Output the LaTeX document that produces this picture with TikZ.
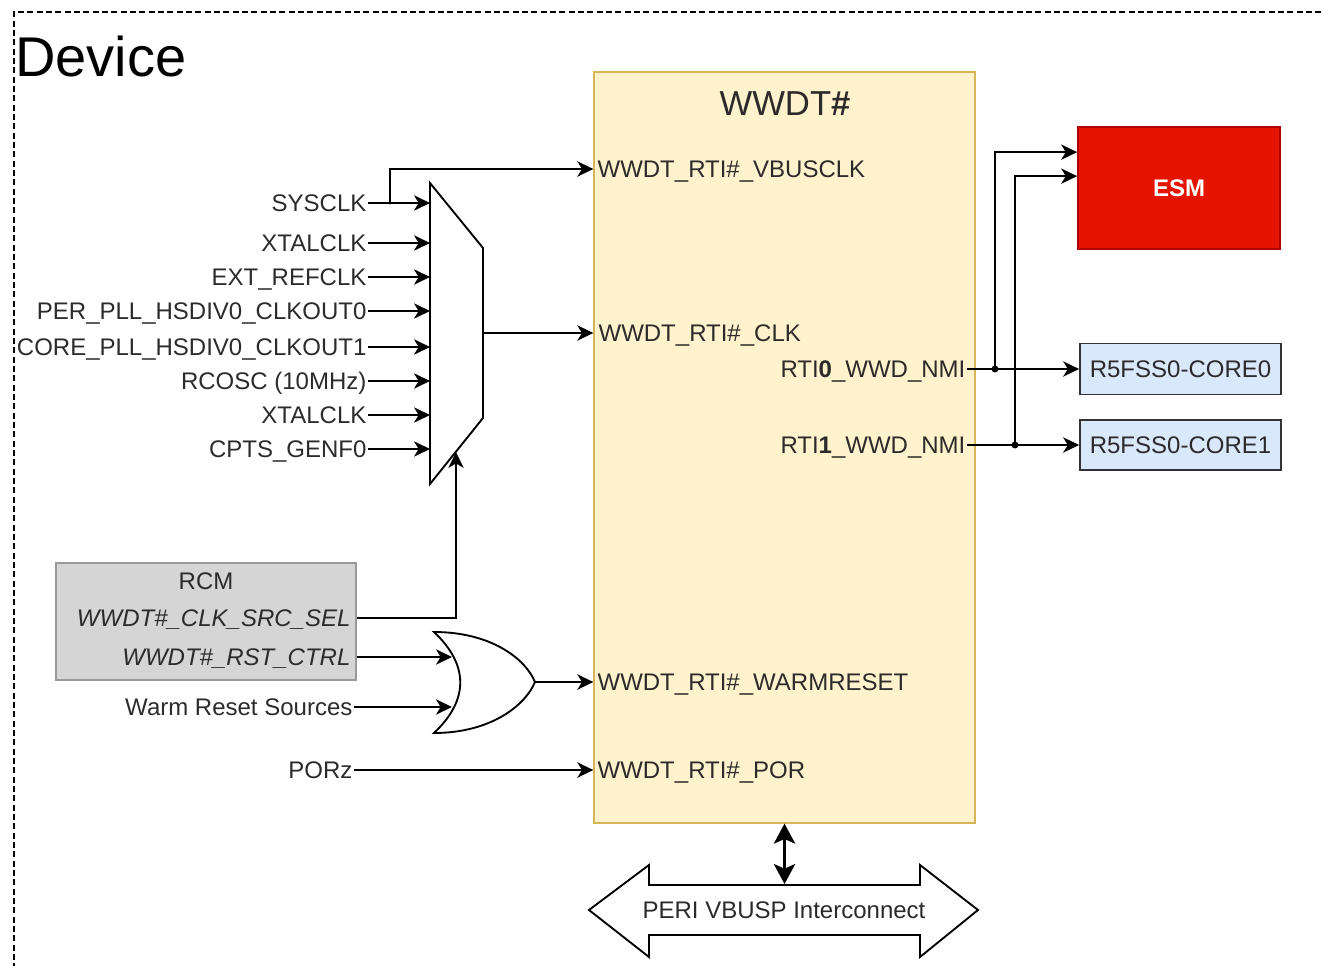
\documentclass[tikz,border=0pt]{standalone}
\usepackage{fontspec}
\setmainfont{Liberation Sans}
\usetikzlibrary{arrows.meta,calc}
\definecolor{txtgray}{HTML}{2B2B2B}
\definecolor{wwdtfill}{HTML}{FFF2CC}
\definecolor{wwdtline}{HTML}{D6B656}
\definecolor{esmfill}{HTML}{E51400}
\definecolor{esmline}{HTML}{B20000}
\definecolor{corefill}{HTML}{DAE8FC}
\definecolor{coreline}{HTML}{333333}
\definecolor{rcmfill}{HTML}{D5D5D5}
\definecolor{rcmline}{HTML}{999999}
\begin{document}
\begin{tikzpicture}[x=0.75pt,y=-0.75pt,
  lbl/.style={font=\fontsize{18}{21}\selectfont, text=txtgray, inner sep=1pt, text height=12.9pt, text depth=0pt},
  ilbl/.style={lbl, font=\fontsize{18}{21}\selectfont\itshape},
  wire/.style={line width=1.4pt, draw=black},
  arr/.style={wire, -{Stealth[length=12pt,width=11.5pt,inset=3.5pt]}},
  dbl/.style={line width=1.8pt, {Stealth[length=15pt,width=16pt,inset=3.5pt]}-{Stealth[length=15pt,width=16pt,inset=3.5pt]}},
  dot/.style={fill=black},
  box/.style={inner sep=0pt, line width=1.3pt}
]
\useasboundingbox (0,0) rectangle (1324,966);

% Device frame
\draw[line width=0.9pt, dash pattern=on 4.5pt off 2.5pt] (1340,12) -- (14,12) -- (14,985);
\node[anchor=base west, inner sep=0pt, font=\fontsize{42}{48}\selectfont] (device) at (15,77) {Device};

% WWDT box
\node[box, draw=wwdtline, fill=wwdtfill, line width=1pt, minimum width=285.75pt, minimum height=563.25pt] (wwdt) at (784.5,447.5) {};
\node[anchor=base, inner sep=0pt, font=\fontsize{26}{30}\selectfont, text=txtgray] (wtitle) at (785,116) {WWDT\textbf{\#}};
\node[lbl, anchor=west] (vbus) at (596,169) {WWDT\_RTI\#\_VBUSCLK};
\node[lbl, anchor=west] (clk) at (597,333) {WWDT\_RTI\#\_CLK};
\node[lbl, anchor=east] (rti0) at (967,369) {RTI\textbf{0}\_WWD\_NMI};
\node[lbl, anchor=east] (rti1) at (967,445) {RTI\textbf{1}\_WWD\_NMI};
\node[lbl, anchor=west] (warm) at (596,682) {WWDT\_RTI\#\_WARMRESET};
\node[lbl, anchor=west] (por) at (596,770) {WWDT\_RTI\#\_POR};

% Mux
\draw[wire, fill=white] (430,183) coordinate (mtl) -- (483,248) -- (483,418) -- (430,484) -- cycle;
\coordinate (mo) at (483,333);
\coordinate (msel) at (456,452);
\foreach \y/\t/\n in {203/SYSCLK/a, 243/XTALCLK/b, 277/EXT\_REFCLK/c, 311/PER\_PLL\_HSDIV0\_CLKOUT0/d, 347/CORE\_PLL\_HSDIV0\_CLKOUT1/e, 381/RCOSC (10MHz)/f, 415/XTALCLK/g, 449/CPTS\_GENF0/h}{
  \coordinate (m\n) at (430,\y);
  \node[lbl, anchor=east] (in\n) at (368,\y) {\t};
  \draw[arr] (in\n.east) -- (m\n);
}
\coordinate (sj) at (390,203);
\fill[dot] (sj) circle (1.3pt);
\draw[arr] (sj) |- (wwdt.west |- vbus);
\draw[arr] (mo) -- (wwdt.west |- clk);

% RCM
\node[box, draw=rcmline, fill=rcmfill, minimum width=225pt, minimum height=87.75pt] (rcm) at (206,621.5) {};
\node[lbl, anchor=base] (rcmt) at (206,589) {RCM};
\node[ilbl, anchor=east] (sel) at (352,618) {WWDT\#\_CLK\_SRC\_SEL};
\node[ilbl, anchor=east] (rst) at (352,657) {WWDT\#\_RST\_CTRL};
\draw[arr] (rcm.east |- sel) -| (msel);

% OR gate
\draw[wire, fill=white] (434,632) coordinate (otl)
  .. controls (490,632) and (525,658) .. (535,682) coordinate (otip)
  .. controls (525,706) and (490,733) .. (434,733) coordinate (obl)
  .. controls (469,700) and (469,665) .. (434,632) -- cycle;
\coordinate (or1) at (452,657);
\coordinate (or2) at (452,707);
\node[lbl, anchor=east] (wrs) at (354,707) {Warm Reset Sources};
\draw[arr] (rcm.east |- rst) -- (or1);
\draw[arr] (wrs.east) -- (or2);
\draw[arr] (otip) -- (wwdt.west |- warm);

% PORz
\node[lbl, anchor=east] (porz) at (354,770) {PORz};
\draw[arr] (porz.east) -- (wwdt.west |- por);

% Right side
\node[box, draw=esmline, fill=esmfill, minimum width=151.5pt, minimum height=91.5pt, text=white, font=\fontsize{18}{21}\selectfont\bfseries] (esm) at (1179,188) {ESM};
\node[box, draw=coreline, fill=corefill, minimum width=150.75pt, minimum height=38.25pt, font=\fontsize{18}{21}\selectfont, text=txtgray] (core0) at (1180.5,369) {R5FSS0-CORE0};
\node[box, draw=coreline, fill=corefill, minimum width=150.75pt, minimum height=37.5pt, font=\fontsize{18}{21}\selectfont, text=txtgray] (core1) at (1180.5,445) {R5FSS0-CORE1};
\coordinate (e1) at ($(esm.north west)+(0,26)$);
\coordinate (e2) at ($(esm.north west)+(0,50)$);
\coordinate (j0) at (995,369);
\coordinate (j1) at (1015,445);
\draw[arr] (rti0.east) -- (rti0.east -| core0.west);
\draw[arr] (rti1.east) -- (rti1.east -| core1.west);
\draw[arr] (j0) |- (e1);
\draw[arr] (j1) |- (e2);
\fill[dot] (j0) circle (2.6pt);
\fill[dot] (j1) circle (2.6pt);

% Interconnect
\draw[wire, fill=white] (589,910) -- (649,865) -- (649,885) coordinate (bl) -- (920,885) -- (920,865) -- (978,910) -- (920,957) -- (920,935) -- (649,935) -- (649,957) -- cycle;
\coordinate (bustop) at (784.5,884);
\node[lbl, anchor=center] (bus) at (784,910) {PERI VBUSP Interconnect};
\draw[dbl] (wwdt.south) -- (bustop);
\end{tikzpicture}
\end{document}
